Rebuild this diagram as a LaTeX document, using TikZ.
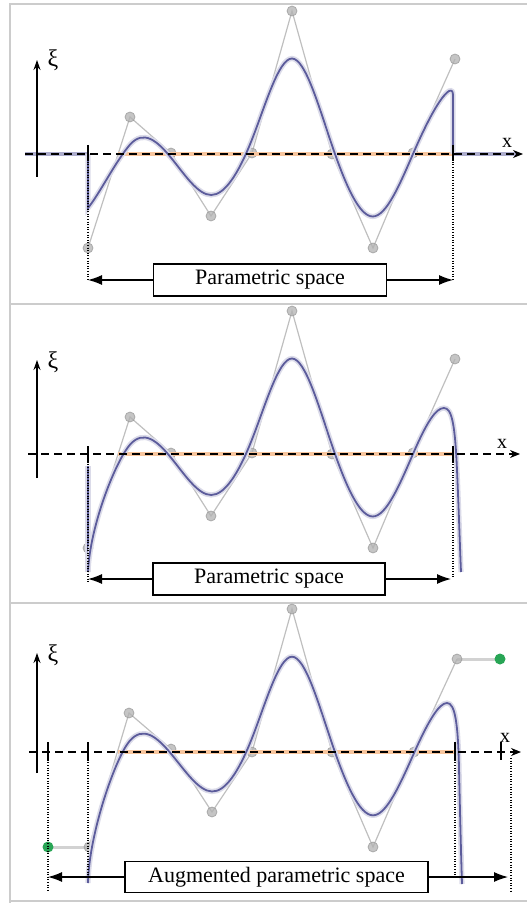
\documentclass[tikz,border=0pt]{standalone}
\usepackage{fontspec}
\setmainfont{Liberation Serif}
\usetikzlibrary{arrows.meta, calc}

\definecolor{curveblue}{RGB}{92,92,155}
\definecolor{knotorange}{RGB}{248,198,158}
\definecolor{extgreen}{RGB}{40,165,85}

\begin{document}
\begin{tikzpicture}[
    x=0.5pt, y=-0.5pt,
    frame/.style={draw=gray!40, line width=1pt},
    axisline/.style={dash pattern=on 4pt off 2.5pt, line width=0.6pt, -{Stealth[length=5pt,width=4pt]}},
    xiaxis/.style={line width=0.6pt, -{Stealth[length=5pt,width=3.5pt]}},
    knot/.style={line width=0.6pt},
    guide/.style={dash pattern=on 0.5pt off 0.8pt, line width=0.6pt},
    span/.style={line width=0.6pt, -{Latex[length=7pt,width=5pt]}},
    spacebox/.style={draw, line width=0.7pt, fill=white, minimum height=16pt, inner sep=2pt, font=\fontsize{11}{13}\selectfont},
    ctrl/.style={draw=gray!50, line width=0.6pt},
    cpt/.style={circle, fill=gray!60, draw=gray!80, line width=0.4pt, inner sep=0pt, minimum size=5pt, opacity=0.75},
    extpt/.style={circle, fill=extgreen, inner sep=0pt, minimum size=5.5pt},
    extline/.style={draw=gray!35, line width=1.5pt},
    knotband/.style={draw=knotorange, line width=2.2pt},
    zeroline/.style={draw=curveblue!50, line width=1.8pt},
    curve/.style={draw=curveblue, line width=0.9pt, preaction={draw=curveblue!22, line width=2.6pt}},
    xilabel/.style={font=\fontsize{12}{14}\selectfont, inner sep=0pt},
    xlabel/.style={font=\fontsize{10}{12}\selectfont, inner sep=0pt},
  ]
  \useasboundingbox (0,0) rectangle (527,903);

  % Panel frames:
  \draw[frame] (10,903) -- (10,4) -- (527,4);
  \draw[frame] (10,304) -- (527,304);
  \draw[frame] (10,603) -- (527,603);
  \draw[frame] (10,901) -- (527,901);

  % ---------- Panel 1: curve cut at the ends of the parametric space ----------
  \begin{scope}
    \foreach \i/\px/\py in {0/88/248, 1/130/117, 2/171/153, 3/211/216, 4/252/153, 5/292/11, 6/332/154, 7/373/248, 8/413/153, 9/455/59}
      \coordinate (p\i) at (\px,\py);
    \foreach \h/\i/\j in {0/1/2, 1/2/3, 2/3/4, 3/4/5, 4/5/6, 5/6/7, 6/7/8, 7/8/9} {
      \coordinate (m\i) at ($(p\h)!.5!(p\j)$);
      \coordinate (k\i) at ($(p\i)!1/3!(m\i)$);
    }
    \coordinate (o1) at (37,177);  \coordinate (o2) at (37,60);
    \coordinate (a1) at (25,154);  \coordinate (a2) at (523,154);
    \coordinate (t1) at (88,154);  \coordinate (t2) at (453,154);
    \coordinate (b1) at (88,280);  \coordinate (b2) at (453,280);
    \coordinate (r1) at (118,154); \coordinate (z2) at (517,154);

    % Control polygon and points:
    \draw[ctrl] (p0) \foreach \i in {1,...,9} {-- (p\i)};
    \foreach \i in {0,...,9} \node[cpt] (c\i) at (p\i) {};

    % Knot band and curve:
    \draw[knotband] (r1) -- (t2);
    \draw[zeroline] (a1) -- (t1);
    \draw[zeroline] (t2) -- (z2);
    \draw[curve] (t1) -- (88,208) .. controls (100,193) and ($(p0)!2/3!(p1)$) .. (k1)
      \foreach \i/\j in {1/2, 2/3, 3/4, 4/5, 5/6, 6/7, 7/8} { .. controls ($(p\i)!1/3!(p\j)$) and ($(p\i)!2/3!(p\j)$) .. (k\j) }
      .. controls ($(p8)!1/3!(p9)$) and (440,97) .. (449,91) .. controls (452,90) and (453,91) .. (453,96) -- (t2);

    % Axes, knots and guides:
    \draw[axisline] (a1) -- (a2);
    \draw[xiaxis] (o1) -- (o2);
    \draw[knot] ($(t1)+(0,-9)$) -- ($(t1)+(0,7)$);
    \draw[knot] ($(t2)+(0,-9)$) -- ($(t2)+(0,7)$);
    \draw[guide] (t1) -- (b1);
    \draw[guide] (t2) -- (b2);
    \node[xilabel] (xi1) at (53,60) {ξ};
    \node[xlabel] (xl1) at (507,143) {x};

    \node[spacebox, minimum width=116.5pt] (ps1) at (270,280) {Parametric space};
    \draw[span] (ps1.west) -- (b1);
    \draw[span] (ps1.east) -- (b2);
  \end{scope}

  % ---------- Panel 2: curve continued steeply at the ends ----------
  \begin{scope}[shift={(0,300)}]
    \foreach \i/\px/\py in {0/88/248, 1/130/117, 2/171/153, 3/211/216, 4/252/153, 5/292/11, 6/332/154, 7/373/248, 8/413/153, 9/455/59}
      \coordinate (p\i) at (\px,\py);
    \foreach \h/\i/\j in {0/1/2, 1/2/3, 2/3/4, 3/4/5, 4/5/6, 5/6/7, 6/7/8, 7/8/9} {
      \coordinate (m\i) at ($(p\h)!.5!(p\j)$);
      \coordinate (k\i) at ($(p\i)!1/3!(m\i)$);
    }
    \coordinate (o1) at (37,178);  \coordinate (o2) at (37,60);
    \coordinate (a1) at (28,154);  \coordinate (a2) at (520,154);
    \coordinate (t1) at (88,154);  \coordinate (t2) at (453,154);
    \coordinate (b1) at (88,283);  \coordinate (b2) at (453,278);
    \coordinate (r1) at (118,154);
    \coordinate (e1) at (88,166);  \coordinate (e2) at (88,272);

    % Control polygon and points:
    \draw[ctrl] (p0) \foreach \i in {1,...,9} {-- (p\i)};
    \foreach \i in {0,...,9} \node[cpt] (c\i) at (p\i) {};

    % Knot band and curve:
    \draw[knotband] (r1) -- (t2);
    \draw[curve] (e1) -- (e2);
    \draw[curve] (e2) .. controls (90,225) and ($(p0)!2/3!(p1)$) .. (k1)
      \foreach \i/\j in {1/2, 2/3, 3/4, 4/5, 5/6, 6/7, 7/8} { .. controls ($(p\i)!1/3!(p\j)$) and ($(p\i)!2/3!(p\j)$) .. (k\j) }
      .. controls ($(p8)!1/3!(p9)$) and (436,108) .. (444,108) .. controls (452,108) and (455,125) .. (457,170)
      .. controls (459,215) and (460,250) .. (461,272);

    % Axes, knots and guides:
    \draw[axisline] (a1) -- (a2);
    \draw[xiaxis] (o1) -- (o2);
    \draw[knot] ($(t1)+(0,-8)$) -- ($(t1)+(0,9)$);
    \draw[knot] ($(t2)+(0,-8)$) -- ($(t2)+(0,9)$);
    \draw[guide] (t1) -- (b1);
    \draw[guide] (t2) -- (b2);
    \node[xilabel] (xi2) at (53,62) {ξ};
    \node[xlabel] (xl2) at (502,144) {x};

    \node[spacebox, minimum width=116pt] (ps2) at (269,279) {Parametric space};
    \draw[span] (ps2.west) -- (88,279);
    \draw[span] (ps2.east) -- (451,279);
  \end{scope}

  % ---------- Panel 3: augmented parametric space with extra control points ----------
  \begin{scope}[shift={(0,598)}]
    \foreach \i/\px/\py in {0/89/249, 1/129/115, 2/171/151, 3/212/214, 4/252/154, 5/292/11, 6/332/154, 7/373/249, 8/414/154, 9/457/61}
      \coordinate (p\i) at (\px,\py);
    \foreach \h/\i/\j in {0/1/2, 1/2/3, 2/3/4, 3/4/5, 4/5/6, 5/6/7, 6/7/8, 7/8/9} {
      \coordinate (m\i) at ($(p\h)!.5!(p\j)$);
      \coordinate (k\i) at ($(p\i)!1/3!(m\i)$);
    }
    \coordinate (o1) at (37,175);  \coordinate (o2) at (37,55);
    \coordinate (a1) at (29,154);  \coordinate (a2) at (521,154);
    \coordinate (t0) at (48,154);  \coordinate (t1) at (88,154);
    \coordinate (t2) at (455,154); \coordinate (t3) at (501,154);
    \coordinate (b0) at (48,293);  \coordinate (b1) at (88,278);
    \coordinate (b2) at (455,278);
    \coordinate (d1) at (511,160); \coordinate (d2) at (511,293);
    \coordinate (r1) at (118,154);
    \coordinate (e2) at (88,285);

    % Control polygon, extra points and points:
    \draw[extline] (p0) -- (48,249);
    \draw[extline] (p9) -- (500,61);
    \draw[ctrl] (p0) \foreach \i in {1,...,9} {-- (p\i)};
    \foreach \i in {0,...,9} \node[cpt] (c\i) at (p\i) {};
    \node[extpt] (g0) at (48,249) {};
    \node[extpt] (g1) at (500,61) {};

    % Knot band and curve:
    \draw[knotband] (r1) -- (t2);
    \draw[curve] (e2) .. controls (89,235) and ($(p0)!2/3!(p1)$) .. (k1)
      \foreach \i/\j in {1/2, 2/3, 3/4, 4/5, 5/6, 6/7, 7/8} { .. controls ($(p\i)!1/3!(p\j)$) and ($(p\i)!2/3!(p\j)$) .. (k\j) }
      .. controls ($(p8)!1/3!(p9)$) and (439,105) .. (447,105) .. controls (455,105) and (458,125) .. (459,170)
      .. controls (460,215) and (461,255) .. (462,286);

    % Axes, knots and guides:
    \draw[axisline] (a1) -- (a2);
    \draw[xiaxis] (o1) -- (o2);
    \foreach \t in {t0,t1,t2,t3}
      \draw[knot] ($(\t)+(0,-10)$) -- ($(\t)+(0,8)$);
    \draw[guide] (t0) -- (b0);
    \draw[guide] (t1) -- (b1);
    \draw[guide] (t2) -- (b2);
    \draw[guide] (d1) -- (d2);
    \node[xilabel] (xi3) at (53,57) {ξ};
    \node[xlabel] (xl3) at (505,140) {x};

    \node[spacebox, minimum width=151.5pt, minimum height=15.5pt] (ps3) at (276.5,279) {Augmented parametric space};
    \draw[span] (ps3.west) -- (48,279);
    \draw[span] (ps3.east) -- (508,279);
  \end{scope}
\end{tikzpicture}
\end{document}
